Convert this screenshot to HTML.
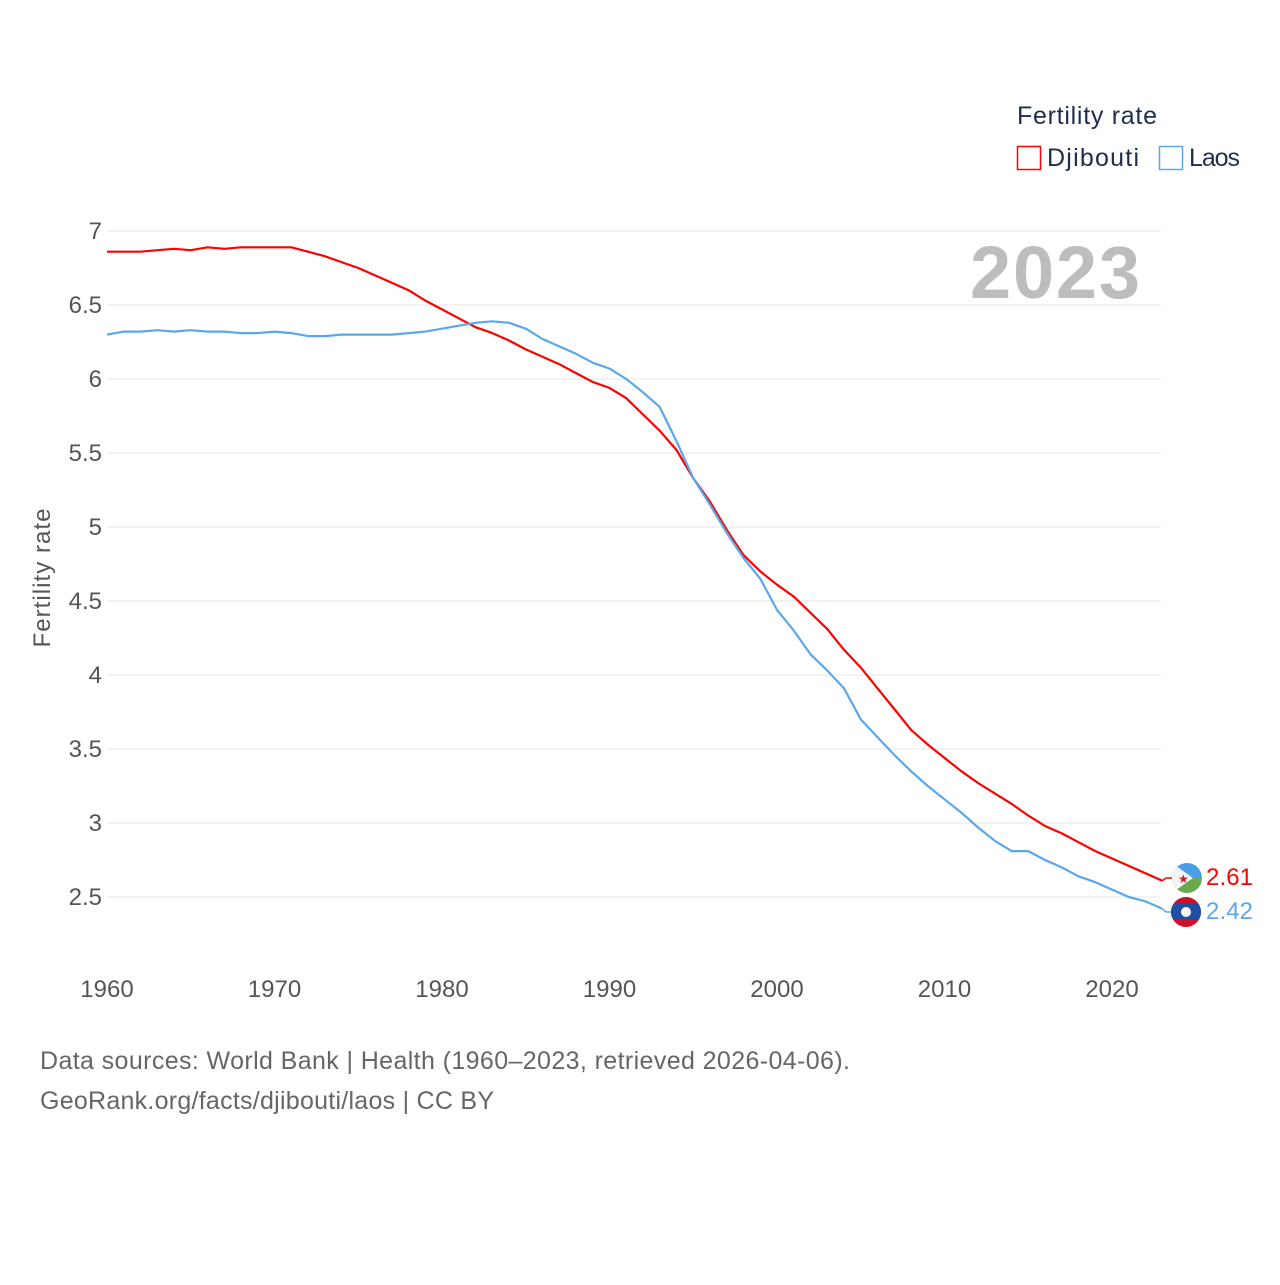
<!DOCTYPE html>
<html><head><meta charset="utf-8"><style>
body{margin:0;background:#fff;font-family:"Liberation Sans",sans-serif}
svg text{font-family:"Liberation Sans",sans-serif}
</style></head><body>
<svg id="chart" width="1280" height="1280" viewBox="0 0 1280 1280">
<g id="grid"></g>
<g id="yticks"></g>
<g id="xticks"></g>
<text x="1140" y="298" text-anchor="end" font-size="74" font-weight="bold" fill="#bdbdbd" textLength="170">2023</text>
<text transform="translate(50,578) rotate(-90)" text-anchor="middle" font-size="24" fill="#555" textLength="139">Fertility rate</text>
<g id="series"></g>
<g>
<text x="1017" y="124" font-size="25" fill="#1f2d4d" textLength="140">Fertility rate</text>
<g><rect x="1017.5" y="146.5" width="23" height="23" fill="none" stroke="#ff0000" stroke-width="1.5"/><text x="1047" y="166" font-size="25" fill="#1f2d4d" textLength="92">Djibouti</text></g>
<g><rect x="1159.5" y="146.5" width="23" height="23" fill="none" stroke="#5aa7ee" stroke-width="1.5"/><text x="1189" y="166" font-size="25" fill="#1f2d4d" textLength="51">Laos</text></g>
</g>
<g>
<clipPath id="c1"><circle cx="1187" cy="878" r="15"/></clipPath>
<g clip-path="url(#c1)"><rect x="1172" y="863" width="30" height="15" fill="#4a9ee8"/><rect x="1172" y="878" width="30" height="15" fill="#6aa84f"/><polygon points="1172,863 1193,878 1172,893" fill="#f4f4f4"/></g>
<text x="1178" y="883" font-size="12" fill="#d7141a">★</text>
</g>
<g>
<clipPath id="c2"><circle cx="1186" cy="912" r="15"/></clipPath>
<g clip-path="url(#c2)"><rect x="1171" y="897" width="30" height="30" fill="#ce1126"/><rect x="1171" y="904" width="30" height="16" fill="#1e4fa3"/></g>
<circle cx="1186" cy="912" r="5" fill="#fff"/>
</g>
<text x="1206" y="885" font-size="24" fill="#ff0000" textLength="47">2.61</text>
<text x="1206" y="919" font-size="24" fill="#5aa7ee" textLength="47">2.42</text>
<text x="40" y="1069" font-size="25" fill="#666" textLength="810">Data sources: World Bank | Health (1960–2023, retrieved 2026-04-06).</text>
<text x="40" y="1109" font-size="25" fill="#666" textLength="454">GeoRank.org/facts/djibouti/laos | CC BY</text>
</svg>
<script>
const years=[];for(let y=1960;y<=2023;y++)years.push(y);
const djibouti=[6.86,6.86,6.86,6.87,6.88,6.87,6.89,6.88,6.89,6.89,6.89,6.89,6.86,6.83,6.79,6.75,6.70,6.65,6.60,6.53,6.47,6.41,6.35,6.31,6.26,6.20,6.15,6.10,6.04,5.98,5.94,5.87,5.76,5.65,5.52,5.33,5.17,4.98,4.81,4.70,4.61,4.53,4.42,4.31,4.17,4.05,3.91,3.77,3.63,3.53,3.44,3.35,3.27,3.20,3.13,3.05,2.98,2.93,2.87,2.81,2.76,2.71,2.66,2.61];
const laos=[6.30,6.32,6.32,6.33,6.32,6.33,6.32,6.32,6.31,6.31,6.32,6.31,6.29,6.29,6.30,6.30,6.30,6.30,6.31,6.32,6.34,6.36,6.38,6.39,6.38,6.34,6.27,6.22,6.17,6.11,6.07,6.00,5.91,5.81,5.58,5.33,5.15,4.96,4.79,4.65,4.44,4.30,4.14,4.03,3.91,3.70,3.58,3.46,3.35,3.25,3.16,3.07,2.97,2.88,2.81,2.81,2.75,2.70,2.64,2.60,2.55,2.50,2.47,2.42];
const yTicks=[2.5,3,3.5,4,4.5,5,5.5,6,6.5,7];
const xTicks=[1960,1970,1980,1990,2000,2010,2020];
const NS="http://www.w3.org/2000/svg";
const X=y=>107+(y-1960)*16.75;
const Y=v=>231+(7-v)*148;
function mk(t,a,p){const e=document.createElementNS(NS,t);for(const k in a)e.setAttribute(k,a[k]);p.appendChild(e);return e;}
const grid=document.getElementById('grid'),yt=document.getElementById('yticks'),xt=document.getElementById('xticks'),ser=document.getElementById('series');
yTicks.forEach(v=>{
 const l=mk('line',{x1:107,x2:1161,y1:Y(v),y2:Y(v),stroke:'#e6e6e6','stroke-width':1},grid);
 
 
 const t=mk('text',{x:102,y:Y(v)+8,'text-anchor':'end','font-size':24,fill:'#555'},yt);t.textContent=v;
 
 
});
xTicks.forEach(v=>{
 const t=mk('text',{x:X(v),y:997,'text-anchor':'middle','font-size':24,fill:'#555'},xt);t.textContent=v;
 
 
});
function line(data,color,name,endY){
 const pts=data.map((v,i)=>X(years[i]).toFixed(1)+','+Y(v).toFixed(1));
 const p=mk('polyline',{points:pts.join(' '),fill:'none',stroke:color,'stroke-width':2.2,'stroke-linejoin':'round'},ser);
 
 
 const lx=X(years[years.length-1]),ly=Y(data[data.length-1]);
 const c=mk('polyline',{points:`${lx},${ly} ${lx+4},${endY} ${lx+13},${endY}`,fill:'none',stroke:color,'stroke-width':1.5},ser);
 
 
}
line(djibouti,'#ff0000','djibouti-line',878);
line(laos,'#5aa7ee','laos-line',912);
</script>
</body></html>
